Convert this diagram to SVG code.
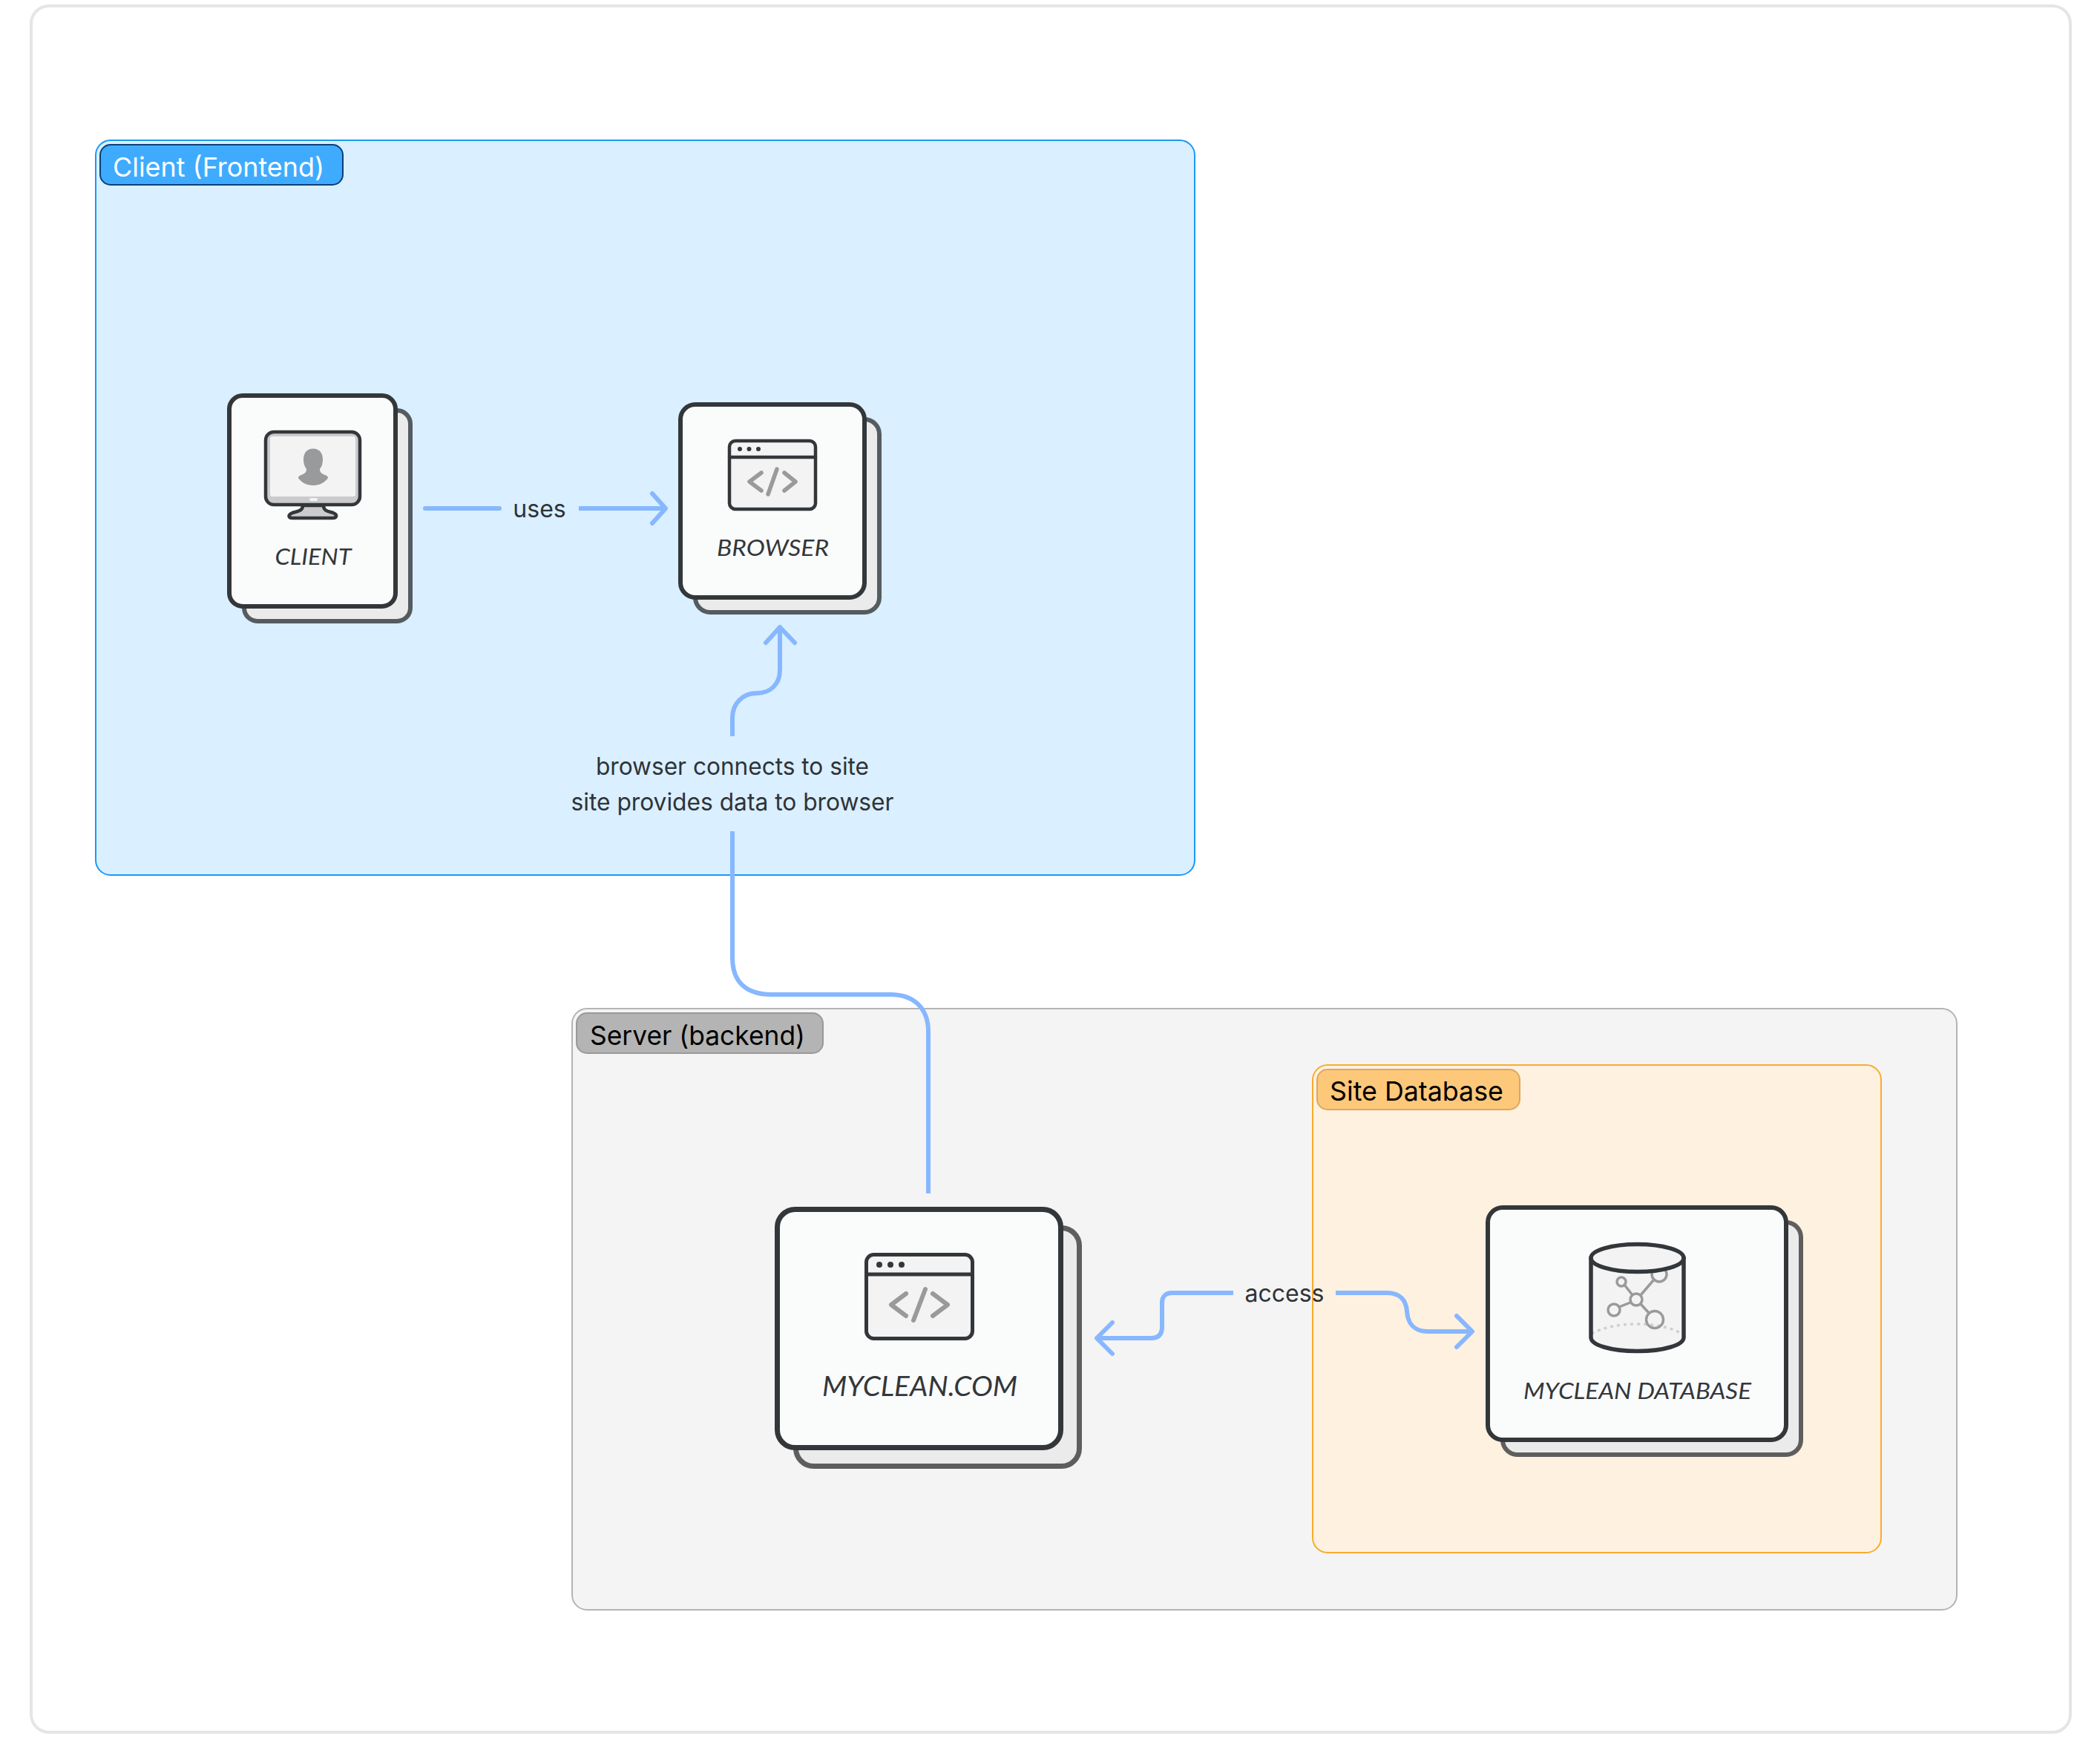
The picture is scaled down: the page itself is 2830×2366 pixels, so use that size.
<svg xmlns="http://www.w3.org/2000/svg" width="2830" height="2366" viewBox="0 0 2830 2366">
<style>
.lbl{font-family:Inter,"Liberation Sans",sans-serif;font-size:36px}
.cap{font-family:Inter,"Liberation Sans",sans-serif;font-size:32px;fill:#2e3338;text-anchor:middle}
.nm{font-family:Lato,"Open Sans",sans-serif;font-style:italic;fill:#33373a;text-anchor:middle}
.back{fill:#ebebeb}
.front{fill:#fafbfb;stroke:#33373a}
.dk{fill:none;stroke:#33373a;stroke-linecap:round;stroke-linejoin:round}
.gr{fill:none;stroke:#999a9c;stroke-linecap:round;stroke-linejoin:round}
.win{fill:#f3f3f3}
.dot{fill:#33373a}
.conn{fill:none;stroke:#87b7ff;stroke-width:6}
.head{fill:none;stroke:#87b7ff;stroke-width:6;stroke-linecap:round;stroke-linejoin:round}
</style>
<rect width="2830" height="2366" fill="#fff"/>
<rect x="42" y="8" width="2748" height="2326" rx="24" fill="#fff" stroke="#e4e5e6" stroke-width="4"/>

<g id="group-client">
<rect x="129" y="189" width="1481" height="990" rx="20" fill="#daefff" stroke="#1a99f5" stroke-width="2"/>
<rect x="135" y="195" width="327" height="54" rx="14" fill="#3fabff" stroke="#0b3f78" stroke-width="2"/>
<text class="lbl" x="152" y="238" fill="#fff" textLength="285" lengthAdjust="spacingAndGlyphs">Client (Frontend)</text>
</g>
<g id="group-server">
<rect x="771" y="1359" width="1866" height="810" rx="20" fill="#f4f4f4" stroke="#b4b4b4" stroke-width="2"/>
<rect x="777" y="1365" width="332" height="54" rx="14" fill="#b4b4b4" stroke="#999" stroke-width="2"/>
<text class="lbl" x="795" y="1408" fill="#000" textLength="290" lengthAdjust="spacingAndGlyphs">Server (backend)</text>
</g>
<g id="group-database">
<rect x="1769" y="1435" width="766" height="657" rx="20" fill="#fff1df" stroke="#f8ab2e" stroke-width="2"/>
<rect x="1775" y="1441" width="273" height="54" rx="14" fill="#fec87a" stroke="#dba860" stroke-width="2"/>
<text class="lbl" x="1792" y="1483" fill="#000" textLength="234" lengthAdjust="spacingAndGlyphs">Site Database</text>
</g>

<g id="node-client">
<rect class="back" x="329" y="553" width="224" height="284" rx="18" stroke="#555c60" stroke-width="6"/>
<rect class="front" x="309" y="533" width="224" height="284" rx="18" stroke-width="6"/>
<path d="M408 681C408 689 400 689 394 691C387 694 389 698 394 698H448C453 698 456 694 449 691C443 689 436 689 436 681Z" fill="#cbcbcd" stroke="#33373a" stroke-width="4.5" stroke-linejoin="round"/>
<rect x="358" y="582" width="127" height="98" rx="11" fill="#cbcbcd" stroke="#33373a" stroke-width="4.5"/>
<rect x="364" y="588" width="115" height="81" rx="3" class="win"/>
<rect x="417" y="671" width="11" height="4" rx="2" fill="#f3f3f3"/>
<path d="M422 604.500C431 604.500 435 611 435 619C435 624 434 628 431 632C431 636 433 638 438 640C441 641 442 642 442 644C438 650 431 654 422 654C413 654 406 650 402 644C402 642 403 641 406 640C411 638 413 636 413 632C410 628 409 624 409 619C409 611 413 604.500 422 604.500Z" fill="#999a9c"/>
<text class="nm" x="422" y="761" font-size="30" textLength="103" lengthAdjust="spacingAndGlyphs">CLIENT</text>
</g>

<g id="node-browser">
<rect class="back" x="937" y="565" width="248" height="260" rx="20" stroke="#555c60" stroke-width="6"/>
<rect class="front" x="917" y="545" width="248" height="260" rx="20" stroke-width="6"/>
<rect class="win" x="983" y="594" width="116" height="92" rx="8"/>
<rect class="dk" x="983" y="594" width="116" height="92" rx="8" stroke-width="4.500"/>
<path class="dk" d="M983 616H1099" stroke-width="4.500"/>
<circle class="dot" cx="997" cy="605" r="3"/><circle class="dot" cx="1009.500" cy="605" r="3"/><circle class="dot" cx="1022" cy="605" r="3"/>
<path class="gr" d="M1026 637L1010 649L1026 661M1047 632L1035 666M1057 637L1072 649L1057 661" stroke-width="5.500"/>
<text class="nm" x="1041.500" y="749" font-size="30" textLength="151" lengthAdjust="spacingAndGlyphs">BROWSER</text>
</g>

<g id="node-myclean">
<rect class="back" x="1072.500" y="1654.500" width="382" height="321" rx="24" stroke="#5c5e60" stroke-width="7"/>
<rect class="front" x="1047.500" y="1629.500" width="382" height="321" rx="24" stroke-width="7"/>
<rect class="win" x="1167.500" y="1690.500" width="143" height="113" rx="10"/>
<rect class="dk" x="1167.500" y="1690.500" width="143" height="113" rx="10" stroke-width="5"/>
<path class="dk" d="M1167.500 1717H1310.500" stroke-width="5"/>
<circle class="dot" cx="1185" cy="1704" r="4"/><circle class="dot" cx="1200" cy="1704" r="4"/><circle class="dot" cx="1215" cy="1704" r="4"/>
<path class="gr" d="M1221 1743L1201 1758L1221 1773M1247 1737L1231 1779M1257 1743L1277 1758L1257 1773" stroke-width="6"/>
<text class="nm" x="1239.500" y="1881" font-size="36" textLength="263" lengthAdjust="spacingAndGlyphs">MYCLEAN.COM</text>
</g>

<g id="node-database">
<rect class="back" x="2025" y="1647" width="402" height="313" rx="20" stroke="#5e5f5c" stroke-width="6"/>
<rect class="front" x="2005" y="1627" width="402" height="313" rx="20" stroke-width="6"/>
<path class="win" d="M2144 1695V1802C2144 1812 2170 1820.500 2206.500 1820.500C2243 1820.500 2269 1812 2269 1802V1695Z"/>
<path d="M2145 1797C2160 1789 2180 1784 2206 1784C2232 1784 2252 1789 2267 1797" fill="none" stroke="#cfcfd0" stroke-width="3.500" stroke-dasharray="4 5"/>
<g class="gr" stroke-width="3.500">
<path d="M2189 1731L2200 1745M2211 1745L2229 1724M2182 1761L2197 1755M2211 1757L2222 1769"/>
<circle cx="2205" cy="1751" r="8"/><circle cx="2185" cy="1727" r="6"/><circle cx="2236" cy="1717" r="10"/><circle cx="2175" cy="1765" r="8"/><circle cx="2230" cy="1778" r="11.500"/>
</g>
<ellipse class="win" cx="2206.500" cy="1695" rx="62.500" ry="18.500"/>
<path class="dk" d="M2144 1695V1802C2144 1812 2170 1820.500 2206.500 1820.500C2243 1820.500 2269 1812 2269 1802V1695" stroke-width="5.500"/>
<ellipse class="dk" cx="2206.500" cy="1695" rx="62.500" ry="18.500" stroke-width="5.500"/>
<text class="nm" x="2206.500" y="1885" font-size="30" textLength="307" lengthAdjust="spacingAndGlyphs">MYCLEAN DATABASE</text>
</g>

<g id="connectors">
<path class="conn" stroke-linecap="round" d="M573 685H673"/>
<path class="conn" d="M780 685H895"/>
<path class="head" d="M879 665L897 685L879 705"/>
<path class="conn" d="M987 992V967C987 948 1001 934 1020 934C1039 934 1051 921 1051 903V845"/>
<path class="head" d="M1032 866L1051 845L1071 866"/>
<path class="conn" d="M987 1120V1290C987 1323 1005 1340 1040 1340H1200C1232 1340 1251 1359 1251 1390V1608"/>
<path class="conn" d="M1478 1803H1551C1561 1803 1566 1798 1566 1788V1755C1566 1747 1571 1742 1579 1742H1662"/>
<path class="head" d="M1499 1782L1478 1803L1499 1824"/>
<path class="conn" d="M1800 1742H1869C1887 1742 1895 1752 1896 1767C1897 1783 1906 1794 1924 1794H1982"/>
<path class="head" d="M1963 1773L1984 1794L1963 1815"/>
</g>
<g id="connector-labels">
<text class="cap" x="727" y="697">uses</text>
<text class="cap" x="987" y="1044" textLength="368" lengthAdjust="spacingAndGlyphs">browser connects to site</text>
<text class="cap" x="987" y="1092" textLength="435" lengthAdjust="spacingAndGlyphs">site provides data to browser</text>
<text class="cap" x="1731" y="1754">access</text>
</g>
</svg>
